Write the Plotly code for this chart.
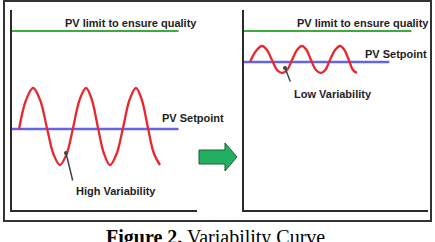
import plotly.graph_objects as go

W, H = 435, 242

# ---- data ----
# Left panel: high variability
left_wave_x = [3.8, 7.6, 11.4, 15.2, 18.9, 22.4, 25.9, 29.5, 33.0, 36.5, 40.0, 43.2,
               46.5, 49.8, 53.0, 56.5, 60.0, 63.5, 67.0, 70.2, 73.5, 76.8, 80.0]
left_wave_y = [40.5, 55.0, 61.0, 55.0, 41.0, 28.0, 22.5, 28.0, 41.0, 55.0, 61.0, 55.0,
               41.0, 28.0, 22.5, 28.0, 41.0, 55.0, 61.0, 55.0, 41.0, 28.0, 22.5]
left_limit_x = [0, 90]
left_limit_y = [89.5, 89.5]
left_setpoint_x = [0, 90]
left_setpoint_y = [40.5, 40.5]

# Right panel: low variability
right_wave_x = [3.3, 6.5, 9.8, 12.5, 15.2, 18.0, 20.7, 23.4, 26.1, 28.8, 31.5, 34.0,
                36.4, 39.1, 41.8, 44.2, 46.7, 49.5, 52.2, 54.6, 57.0, 59.2, 61.4]
right_wave_y = [74.0, 79.5, 82.0, 80.0, 75.0, 70.0, 68.5, 70.0, 75.0, 80.0, 82.0, 80.0,
                75.0, 70.0, 68.5, 70.0, 75.0, 80.0, 82.0, 80.0, 75.0, 70.0, 68.5]
right_limit_x = [0, 91]
right_limit_y = [89.5, 89.5]
right_setpoint_x = [0, 79]
right_setpoint_y = [74.0, 74.0]

label_limit = "PV limit to ensure quality"
label_setpoint = "PV Setpoint"
label_high = "High Variability"
label_low = "Low Variability"
caption_bold = "Figure 2."
caption_rest = "Variability Curve"

RED = "#e8282c"
BLUE = "#6464e6"
GREEN = "#3daa3d"
TXT = "#1e1e1e"
AX = "#2a2a2a"

fig = go.Figure()

def add_panel(xa, ya, wx, wy, lx, ly, sx, sy):
    fig.add_trace(go.Scatter(x=lx, y=ly, mode="lines", xaxis=xa, yaxis=ya,
                             line=dict(color=GREEN, width=2.2), hoverinfo="skip"))
    fig.add_trace(go.Scatter(x=sx, y=sy, mode="lines", xaxis=xa, yaxis=ya,
                             line=dict(color=BLUE, width=2.5), hoverinfo="skip"))
    fig.add_trace(go.Scatter(x=wx, y=wy, mode="lines", xaxis=xa, yaxis=ya,
                             line=dict(color=RED, width=2.3, shape="spline", smoothing=1.0),
                             hoverinfo="skip"))

add_panel("x", "y", left_wave_x, left_wave_y, left_limit_x, left_limit_y,
          left_setpoint_x, left_setpoint_y)
add_panel("x2", "y2", right_wave_x, right_wave_y, right_limit_x, right_limit_y,
          right_setpoint_x, right_setpoint_y)

ydom = [1 - 210 / H, 1 - 10 / H]
axis_common = dict(showgrid=False, zeroline=False, showticklabels=False, ticks="",
                   showline=True, linecolor=AX, linewidth=2, range=[0, 100], fixedrange=True)

fig.update_layout(
    width=W, height=H,
    margin=dict(l=0, r=0, t=0, b=0),
    paper_bgcolor="white", plot_bgcolor="white",
    showlegend=False,
    xaxis=dict(domain=[12 / W, 197 / W], anchor="y", **axis_common),
    yaxis=dict(domain=ydom, anchor="x", **axis_common),
    xaxis2=dict(domain=[244 / W, 428 / W], anchor="y2", **axis_common),
    yaxis2=dict(domain=ydom, anchor="x2", **axis_common),
)

font_lbl = dict(family="Liberation Sans, Arial, sans-serif", size=11, color=TXT)

ann = []
def txt(xr, yr, x, y, t, xanchor="center"):
    ann.append(dict(xref=xr, yref=yr, x=x, y=y, text="<b>" + t + "</b>", showarrow=False,
                    xanchor=xanchor, yanchor="middle", font=font_lbl))

txt("x", "y", 64.3, 93.5, label_limit)
txt("x", "y", 80.0, 46.0, label_setpoint, "left")
txt("x", "y", 56.2, 9.5, label_high)
txt("x2", "y2", 64.7, 93.5, label_limit)
txt("x2", "y2", 64.7, 78.0, label_setpoint, "left")
txt("x2", "y2", 48.4, 58.0, label_low)

# pointer lines with dot heads
ann.append(dict(xref="x", yref="y", axref="x", ayref="y", x=29.2, y=28.5, ax=33.0, ay=14.0,
                text="", showarrow=True, arrowhead=6, arrowsize=0.7, arrowwidth=1.5,
                arrowcolor="#444444"))
ann.append(dict(xref="x2", yref="y2", axref="x2", ayref="y2", x=22.3, y=71.0, ax=25.5, ay=63.5,
                text="", showarrow=True, arrowhead=6, arrowsize=0.7, arrowwidth=1.5,
                arrowcolor="#444444"))

ann.append(dict(xref="paper", yref="paper", x=215 / W, y=1 - 237.5 / H,
                text="<b>" + caption_bold + "</b> " + caption_rest, showarrow=False,
                xanchor="center", yanchor="middle",
                font=dict(family="Liberation Serif, Times New Roman, serif", size=20, color="#000")))
fig.update_layout(annotations=ann)

# decoration: outer frame and big green arrow
def p(px, py):
    return px / W, 1 - py / H

x0, y0 = p(4, 221)
x1, y1 = p(431, 1)
shapes = [dict(type="rect", xref="paper", yref="paper", x0=x0, y0=y0, x1=x1, y1=y1,
               line=dict(color="#333333", width=2), fillcolor="rgba(0,0,0,0)")]
arrow_pts = [(199, 150), (225, 150), (225, 143), (237, 157), (225, 171), (225, 164), (199, 164)]
path = "M " + " L ".join("%f,%f" % p(a, b) for a, b in arrow_pts) + " Z"
shapes.append(dict(type="path", xref="paper", yref="paper", path=path,
                   fillcolor="#22b060", line=dict(color="#1a5c34", width=1)))
fig.update_layout(shapes=shapes)

fig.write_html("out.html")
